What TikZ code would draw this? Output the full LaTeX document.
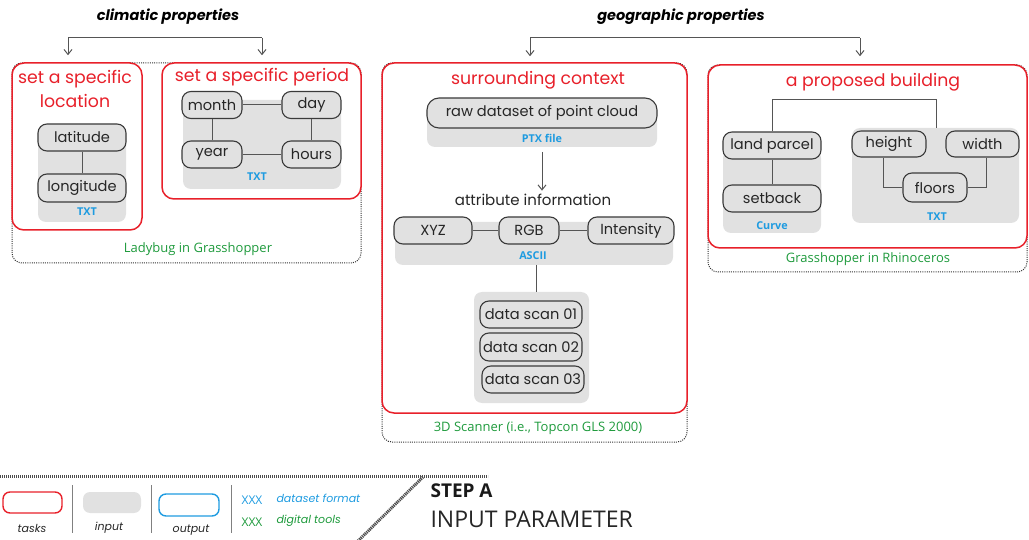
\documentclass[tikz,border=0pt]{standalone}
\usepackage{fontspec}
\setmainfont{Poppins}
\newfontfamily\osans{Open Sans}
\usetikzlibrary{arrows.meta}
\definecolor{tred}{HTML}{E8202A}
\definecolor{fblue}{HTML}{1E9BE0}
\definecolor{tgreen}{HTML}{1E9A3C}
\definecolor{ingray}{HTML}{E1E1E1}
\definecolor{nborder}{HTML}{3A3A3A}
\definecolor{cgray}{HTML}{555555}
\tikzset{
  task/.style={draw=tred, line width=1.5pt, rounded corners=12pt, fill=white, inner sep=0pt},
  tool/.style={draw=black!80, dash pattern=on 1pt off 1.2pt, line width=1pt, rounded corners=10pt, inner sep=0pt},
  inbox/.style={fill=ingray, rounded corners=8pt, draw=none, inner sep=0pt},
  item/.style={draw=nborder, fill=ingray, rounded corners=9pt, line width=1.1pt, inner sep=0pt,
    minimum height=27pt, font=\fontsize{14.6}{16}\selectfont, text=black!85},
  ttl/.style={text=tred, font=\fontsize{17.3}{24}\selectfont, align=center},
  fmt/.style={text=fblue, font=\osans\bfseries\fontsize{10.8}{12}\selectfont},
  toollbl/.style={text=tgreen, font=\osans\fontsize{13}{15}\selectfont},
  head/.style={font=\bfseries\itshape\fontsize{14.5}{17}\selectfont},
  conn/.style={draw=cgray, line width=1pt},
  arr/.style={draw=cgray, line width=1pt, -{Straight Barb[length=5pt,width=8pt]}},
  legtxt/.style={font=\itshape\fontsize{11}{13}\selectfont, text=black!85},
  legline/.style={draw=black!70, line width=3pt, dash pattern=on 1.2pt off 0.8pt}
}
\begin{document}
\begin{tikzpicture}[x=1pt,y=-1pt]
\useasboundingbox (0,0) rectangle (1029,540);

% ---------- tool (dotted) boxes ----------
\node[tool, minimum width=349, minimum height=200] (lady) at (186.5,163) {};
\node[tool, minimum width=305, minimum height=379] (scanner) at (534.5,252.5) {};
\node[tool, minimum width=319, minimum height=207] (rhino) at (867.5,168.5) {};

% ---------- task boxes ----------
\node[task, minimum width=130, minimum height=167] (loc) at (77,146.5) {};
\node[task, minimum width=199, minimum height=136] (period) at (261.5,131) {};
\node[task, minimum width=305, minimum height=350] (surr) at (534.5,238) {};
\node[task, minimum width=319, minimum height=183] (build) at (867.5,156.5) {};

% ---------- headings ----------
\node[head] (clim) at (168,17) {climatic properties};
\node[head] (geo) at (681,17) {geographic properties};
\coordinate (c1) at (68,38);
\coordinate (c2) at (262,38);
\coordinate (g1) at (530,38);
\coordinate (g2) at (860,38);
\draw[conn] (c1) -- (c2);
\draw[arr] (c1) -- (c1 |- loc.north) [shorten >=7pt];
\draw[arr] (c2) -- (c2 |- period.north) [shorten >=7pt];
\draw[conn] (g1) -- (g2);
\draw[arr] (g1) -- (g1 |- surr.north) [shorten >=6pt];
\draw[arr] (g2) -- (g2 |- build.north) [shorten >=8pt];

% ---------- set a specific location ----------
\node[ttl] (loct) at (75,89) {set a specific\\location};
\node[inbox, minimum width=88, minimum height=92] (g1box) at (82,176) {};
\node[item, minimum width=88] (lat) at (82,137.5) {latitude};
\node[item, minimum width=88, minimum height=28] (lon) at (82,188) {longitude};
\draw[conn] (lat) -- (lon);
\node[fmt] (locf) at (87,212) {TXT};

% ---------- set a specific period ----------
\node[ttl] (pert) at (262,77) {set a specific period};
\node[inbox, minimum width=158, minimum height=89] (g2box) at (262,144.5) {};
\node[item, minimum width=60] (month) at (212,105) {month};
\node[item, minimum width=59] (day) at (311.5,105) {day};
\node[item, minimum width=60] (year) at (212,154.5) {year};
\node[item, minimum width=59] (hours) at (311.5,154.5) {hours};
\draw[conn] (month) -- (day);
\draw[conn] (month) -- (year);
\draw[conn] (day) -- (hours);
\draw[conn] (year) -- (hours);
\node[fmt] (perf) at (257,177) {TXT};
\node[toollbl] (ladyl) at (198,249) {Ladybug in Grasshopper};

% ---------- surrounding context ----------
\node[ttl] (surt) at (538,80) {surrounding context};
\node[inbox, minimum width=230, minimum height=37] (rawbox) at (542,128.5) {};
\node[item, minimum width=230, minimum height=30, rounded corners=12pt] (raw) at (542,113) {raw dataset of point cloud};
\node[fmt] (ptx) at (542,138) {PTX file};
\node[font=\fontsize{15}{17}\selectfont, text=black!85] (attr) at (533,200) {attribute information};
\coordinate (ra) at (542,152);
\draw[arr] (ra) -- (ra |- attr.north);
\node[inbox, minimum width=278, minimum height=43] (ascbox) at (534,243.5) {};
\node[item, minimum width=78] (xyz) at (433,230.5) {XYZ};
\node[item, minimum width=60] (rgb) at (529,230.5) {RGB};
\node[item, minimum width=86] (inten) at (631,230.5) {Intensity};
\draw[conn] (xyz) -- (rgb);
\draw[conn] (rgb) -- (inten);
\node[fmt] (ascii) at (533,256) {ASCII};
\node[inbox, minimum width=115, minimum height=111] (scanbox) at (531.5,347.5) {};
\coordinate (sa) at (536,265);
\draw[conn] (sa) -- (sa |- scanbox.north);
\node[item, minimum width=102] (s1) at (531,314.5) {data scan 01};
\node[item, minimum width=102, minimum height=28] (s2) at (531,347) {data scan 02};
\node[item, minimum width=102] (s3) at (533,379.5) {data scan 03};
\node[toollbl] (scanl) at (538,428) {3D Scanner (i.e., Topcon GLS 2000)};

% ---------- a proposed building ----------
\node[ttl] (buit) at (873,82) {a proposed building};
\node[inbox, minimum width=98, minimum height=83] (curbox) at (772,191.5) {};
\node[item, minimum width=98] (land) at (772,145.5) {land parcel};
\node[item, minimum width=98] (setb) at (772,198.5) {setback};
\draw[conn] (land) -- (setb);
\node[fmt] (curve) at (772,226) {Curve};
\node[inbox, minimum width=167, minimum height=95] (txtbox) at (935.5,175.5) {};
\node[item, minimum width=74, minimum height=26] (height) at (889,144) {height};
\node[item, minimum width=73, minimum height=26] (width) at (982.5,144) {width};
\node[item, minimum width=64, minimum height=29] (floors) at (935,187.5) {floors};
\draw[conn] (height.south) ++(-6,0) |- (floors.west);
\draw[conn] (width.south) ++(4,0) |- (floors.east);
\node[fmt] (txtf) at (937,217) {TXT};
\coordinate (bj) at (936,100);
\draw[conn] (land.north) |- (bj) -- (bj |- txtbox.north);
\node[toollbl] (rhinol) at (868,259) {Grasshopper in Rhinoceros};

% ---------- legend ----------
\coordinate (l0) at (0,476);
\coordinate (l1) at (488,476);
\coordinate (d0) at (423,477);
\coordinate (d1) at (358,541);
\draw[legline] (l0) -- (l1);
\draw[legline] (d0) -- (d1);
\node[draw=tred, line width=1.4pt, rounded corners=7pt, minimum width=59, minimum height=21] (lt) at (32.5,502.5) {};
\node[legtxt] (ltl) at (32,528) {tasks};
\node[fill=ingray, rounded corners=7pt, minimum width=58, minimum height=21] (li) at (112,502.5) {};
\node[legtxt] (lil) at (109,528) {input};
\node[draw=fblue, line width=1.4pt, rounded corners=7pt, minimum width=60, minimum height=22] (lo) at (189,505) {};
\node[legtxt] (lol) at (191,530) {output};
\coordinate (v1) at (72,485); \coordinate (v1b) at (72,533);
\coordinate (v2) at (151,485); \coordinate (v2b) at (151,533);
\coordinate (v3) at (231,485); \coordinate (v3b) at (231,533);
\draw[draw=black!50, line width=0.8pt] (v1) -- (v1b) (v2) -- (v2b) (v3) -- (v3b);
\node[text=fblue, font=\osans\fontsize{12}{14}\selectfont] (xb) at (252,500) {XXX};
\node[legtxt, anchor=west] (xbl) at (273,498) {\color{fblue}dataset format};
\node[text=tgreen, font=\osans\fontsize{12}{14}\selectfont] (xg) at (252,522) {XXX};
\node[legtxt, anchor=west] (xgl) at (273,521) {\color{tgreen}digital tools};
\node[anchor=west, font=\osans\bfseries\fontsize{19}{21}\selectfont, text=black!90] (stepa) at (427,491) {STEP A};
\node[anchor=west, font=\osans\fontsize{23}{26}\selectfont, text=black!85] (inpar) at (427,519) {INPUT PARAMETER};
\end{tikzpicture}
\end{document}
